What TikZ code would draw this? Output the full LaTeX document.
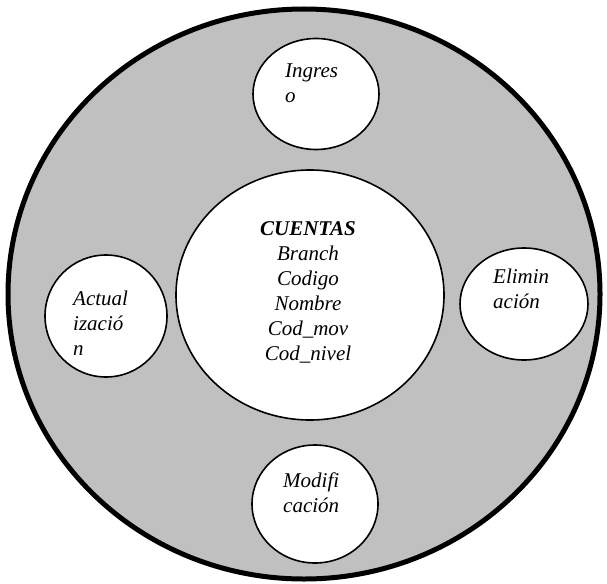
\documentclass[tikz,border=0pt]{standalone}
\usepackage{fontspec}
\setmainfont{Liberation Serif}
\usetikzlibrary{shapes.geometric}
\definecolor{panelgray}{RGB}{192,192,192}
\tikzset{
  outer/.style={ellipse, draw=black, line width=5pt, fill=panelgray, inner sep=0pt},
  bubble/.style={ellipse, draw=black, line width=1.6pt, fill=white, inner sep=0pt},
  label/.style={inner sep=0pt, align=left, anchor=north west,
    font=\fontsize{21}{25}\selectfont\itshape},
  entity/.style={inner sep=0pt, align=center, anchor=north,
    font=\fontsize{21}{25}\selectfont\itshape}
}
\begin{document}
\begin{tikzpicture}[x=1pt, y=-1pt]
  \useasboundingbox (0,0) rectangle (607,583);
  % shaded system boundary
  \node[outer, minimum width=592pt, minimum height=570pt] (sys) at (304,294) {};
  % central data store
  \node[bubble, minimum width=268pt, minimum height=250pt] (cuentas) at (310,295) {};
  \node[entity] (tcuentas) at (308,221)
    {\textbf{CUENTAS}\\Branch\\Codigo\\Nombre\\Cod\_mov\\Cod\_nivel};
  % processes around it
  \node[bubble, minimum width=126pt, minimum height=111pt] (ingreso) at (316,94) {};
  \node[label] (tingreso) at (285,64) {Ingres\\o};
  \node[bubble, minimum width=122pt, minimum height=122pt] (actual) at (106,316) {};
  \node[label] (tactual) at (73,291) {Actual\\izació\\n};
  \node[bubble, minimum width=128pt, minimum height=112pt] (elim) at (524,304) {};
  \node[label] (telim) at (493,269) {Elimin\\ación};
  \node[bubble, minimum width=126pt, minimum height=118pt] (modif) at (315,504) {};
  \node[label] (tmodif) at (283,473) {Modifi\\cación};
\end{tikzpicture}
\end{document}
